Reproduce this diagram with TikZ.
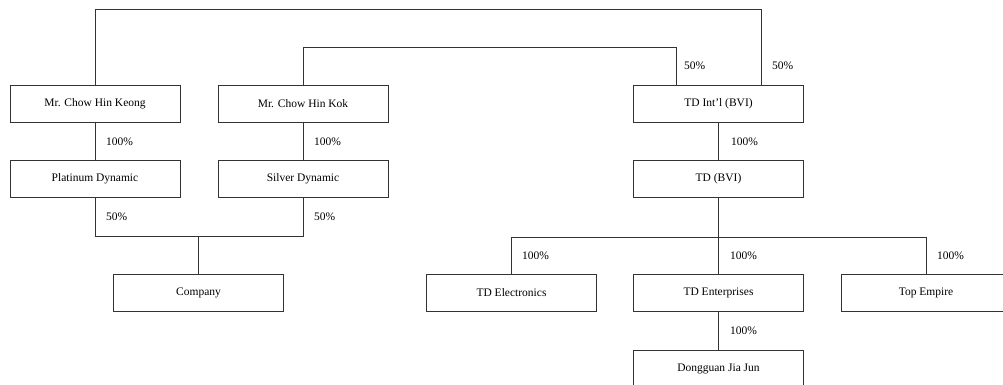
\documentclass[tikz,border=0pt]{standalone}
\usepackage{fontspec}
\setmainfont{Liberation Serif}
\begin{document}
\begin{tikzpicture}[x=1pt,y=-1pt,
  orgbox/.style={draw=black!80,line width=0.8pt,minimum width=170pt,minimum height=37pt,inner sep=0pt,font=\fontsize{11.5}{13}\selectfont},
  pct/.style={anchor=west,inner sep=0pt,font=\fontsize{11.5}{13}\selectfont},
  link/.style={draw=black!80,line width=0.8pt}]
\useasboundingbox (0,0) rectangle (1003,384);
\clip (0,0) rectangle (1003,384);
\node[orgbox] (keong) at (95,103.5) {Mr. Chow Hin Keong};
\node[orgbox] (kok) at (303,103.5) {Mr. Chow Hin Kok};
\node[orgbox] (plat) at (95,179) {Platinum Dynamic};
\node[orgbox] (silver) at (303,179) {Silver Dynamic};
\node[orgbox] (company) at (198.5,292.5) {Company};
\node[orgbox] (tdintl) at (718.5,103.5) {TD Int'l (BVI)};
\node[orgbox] (tdbvi) at (718.5,179) {TD (BVI)};
\node[orgbox] (tdelec) at (511.5,292.5) {TD Electronics};
\node[orgbox] (tdent) at (718.5,292.5) {TD Enterprises};
\node[orgbox] (topemp) at (926,292.5) {Top Empire};
\node[orgbox] (dongguan) at (718.5,368.5) {Dongguan Jia Jun};
\coordinate (t1) at (761.5,9);
\coordinate (t2) at (676,47);
\coordinate (jl) at (0,236);
\coordinate (jr) at (0,237);
% top connectors
\draw[link] (keong.north) |- (t1) -- (t1 |- tdintl.north);
\draw[link] (kok.north) |- (t2) -- (t2 |- tdintl.north);
% left chain
\draw[link] (keong.south) -- (plat.north);
\draw[link] (kok.south) -- (silver.north);
\draw[link] (plat.south) -- (plat.south |- jl) -- (silver.south |- jl) -- (silver.south);
\draw[link] (company.north) -- (company.north |- jl);
% right chain
\draw[link] (tdintl.south) -- (tdbvi.north);
\draw[link] (tdbvi.south) -- (tdbvi.south |- jr);
\draw[link] (tdelec.north) -- (tdelec.north |- jr) -- (topemp.north |- jr) -- (topemp.north);
\draw[link] (tdent.north) -- (tdent.north |- jr);
\draw[link] (tdent.south) -- (dongguan.north);
% labels
\node[pct] (l1) at (106,141.5) {100\%};
\node[pct] (l2) at (314,141.5) {100\%};
\node[pct] (l3) at (106,217) {50\%};
\node[pct] (l4) at (314,217) {50\%};
\node[pct] (l5) at (684,66) {50\%};
\node[pct] (l6) at (772,66) {50\%};
\node[pct] (l7) at (731,141.5) {100\%};
\node[pct] (l8) at (522,255.5) {100\%};
\node[pct] (l9) at (730,255.5) {100\%};
\node[pct] (l10) at (937,255.5) {100\%};
\node[pct] (l11) at (730,331) {100\%};
\end{tikzpicture}
\end{document}
